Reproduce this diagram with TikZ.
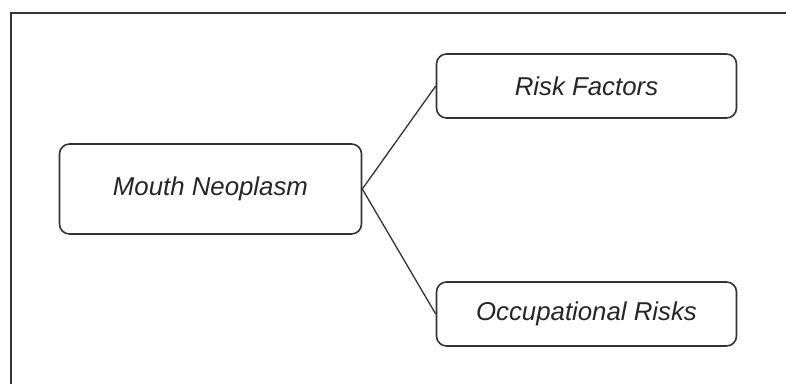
\documentclass[tikz,border=0pt]{standalone}
\usepackage{fontspec}
\setmainfont{Liberation Sans}
\begin{document}
\begin{tikzpicture}[x=1pt,y=-1pt,
  box/.style={draw=black!80, line width=1.6pt, rounded corners=10pt, fill=white,
    inner sep=0pt, font=\fontsize{25.8}{30}\selectfont\itshape, text=black!85},
  link/.style={draw=black!80, line width=1.3pt}]
\useasboundingbox (0,0) rectangle (786,383);
\coordinate (fb) at (11,390);
\coordinate (ftl) at (11,12.5);
\coordinate (fr) at (790,12.5);
\draw[black!80, line width=2pt] (fb) -- (ftl) -- (fr);
\node[box, minimum width=302pt, minimum height=90pt] (mouth) at (210.5,189) {Mouth Neoplasm};
\node[box, minimum width=300pt, minimum height=64pt] (risk) at (586.5,86) {Risk Factors};
\node[box, minimum width=300pt, minimum height=64pt] (occ) at (586.5,314) {Occupational Risks};
\draw[link] (mouth.east) -- (risk.west);
\draw[link] (mouth.east) -- (occ.west);
\end{tikzpicture}
\end{document}
